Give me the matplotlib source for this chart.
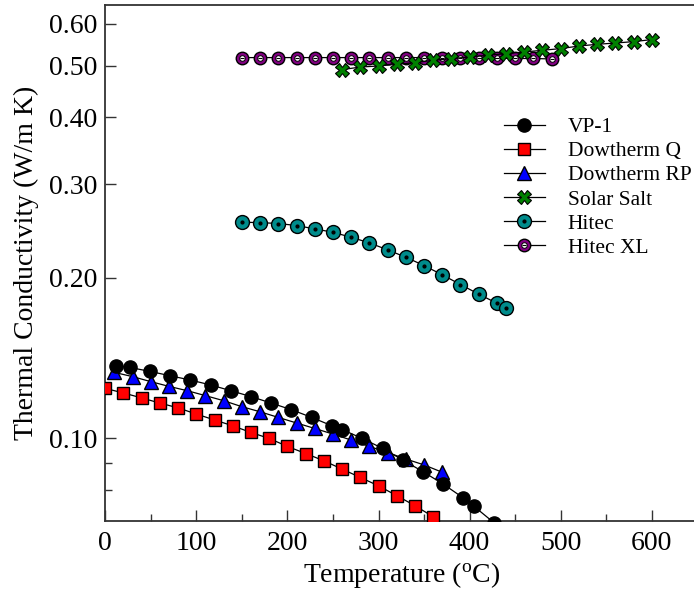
import matplotlib

matplotlib.use("Agg")

import matplotlib.pyplot as plt
from matplotlib.lines import Line2D
from matplotlib.legend_handler import HandlerTuple
from matplotlib.ticker import FixedLocator, NullFormatter, FormatStrFormatter

# VP-1 (data tabulated in degF steps, converted to degC)
vp1_t = [12, 26.7, 48.9, 71.1, 93.3, 115.6, 137.8, 160, 182.2, 204.4, 226.7, 248.9,
         260, 282.2, 304.4, 326.7, 348.9, 371.1, 393.3, 404.4, 426.7]
vp1_k = [0.1369, 0.1359, 0.1336, 0.1311, 0.1287, 0.1260, 0.1229, 0.1198, 0.1165,
         0.1132, 0.1095, 0.1056, 0.1039, 0.1000, 0.0958, 0.0911, 0.0866, 0.0821,
         0.0773, 0.0747, 0.0695]

dq_t = [0, 20, 40, 60, 80, 100, 120, 140, 160, 180, 200, 220, 240, 260, 280, 300,
        320, 340, 360]
dq_k = [0.1241, 0.1217, 0.1191, 0.1165, 0.1141, 0.1111, 0.1083, 0.1056, 0.1026,
        0.1000, 0.0966, 0.0937, 0.0908, 0.0876, 0.0845, 0.0815, 0.0781, 0.0748,
        0.0713]

rp_t = [10, 30, 50, 70, 90, 110, 130, 150, 170, 190, 210, 230, 250, 270, 290, 310,
        330, 350, 370]
rp_k = [0.1330, 0.1306, 0.1278, 0.1252, 0.1229, 0.1203, 0.1177, 0.1147, 0.1122,
        0.1095, 0.1069, 0.1044, 0.1019, 0.0993, 0.0966, 0.0941, 0.0915, 0.0892,
        0.0864]

salt_t = [260, 280, 300, 320, 340, 360, 380, 400, 420, 440, 460, 480, 500, 520,
          540, 560, 580, 600]
salt_k = [0.4917, 0.4973, 0.4995, 0.5032, 0.5069, 0.5120, 0.5157, 0.5193, 0.5232,
          0.5270, 0.5307, 0.5346, 0.5385, 0.5445, 0.5486, 0.5516, 0.5550, 0.5598]

hitec_t = [150, 170, 190, 210, 230, 250, 270, 290, 310, 330, 350, 370, 390, 410,
           430, 440]
hitec_k = [0.2544, 0.2540, 0.2530, 0.2508, 0.2472, 0.2436, 0.2384, 0.2327, 0.2258,
           0.2187, 0.2110, 0.2027, 0.1944, 0.1865, 0.1793, 0.1754]

xl_t = [150, 170, 190, 210, 230, 250, 270, 290, 310, 330, 350, 370, 390, 410, 430,
        450, 470, 490]
xl_k = [0.518, 0.518, 0.518, 0.518, 0.518, 0.518, 0.518, 0.518, 0.518, 0.518,
        0.518, 0.518, 0.518, 0.517, 0.517, 0.516, 0.516, 0.515]

yticks = [0.1, 0.2, 0.3, 0.4, 0.5, 0.6]
xticks = [0, 100, 200, 300, 400, 500, 600]

plt.rcParams.update({
    "font.family": "Liberation Serif",
    "mathtext.fontset": "custom",
    "mathtext.rm": "Liberation Serif",
    "font.size": 20,
})

fig = plt.figure(figsize=(6.94, 5.92), dpi=100)
ax = fig.add_axes([0.1517, 0.1199, 0.853, 0.8716])

lw = 0.9
ax.plot(vp1_t, vp1_k, color="black", lw=lw, marker="o", ms=9.5, mfc="black",
        mec="black", zorder=3)
ax.plot(dq_t, dq_k, color="black", lw=lw, marker="s", ms=9, mfc="#ff0000",
        mec="black", mew=1, zorder=3)
ax.plot(rp_t, rp_k, color="black", lw=lw, marker="^", ms=9.5, mfc="#0000ff",
        mec="black", mew=1, zorder=2.9)
ax.plot(xl_t, xl_k, color="black", lw=lw, marker="o", ms=9, mfc="#800080",
        mec="black", mew=1, zorder=3)
ax.plot(xl_t, xl_k, ls="none", marker="o", ms=4, mfc="white", mec="black",
        mew=0.7, zorder=3.1)
ax.plot(xl_t, xl_k, ls="none", marker="_", ms=3, mec="black", mew=0.8, zorder=3.2)
ax.plot(salt_t, salt_k, color="black", lw=lw, marker="X", ms=10, mfc="#008000",
        mec="black", mew=0.8, zorder=4)
ax.plot(hitec_t, hitec_k, color="black", lw=lw, marker="o", ms=10, mfc="#008b8b",
        mec="black", mew=1, zorder=3)
ax.plot(hitec_t, hitec_k, ls="none", marker="o", ms=2, mfc="black", mec="black",
        zorder=3.1)

ax.set_yscale("log")
ax.set_xlim(0, 650)
ax.set_ylim(0.07, 0.65)
ax.yaxis.set_major_locator(FixedLocator(yticks))
ax.yaxis.set_major_formatter(FormatStrFormatter("%.2f"))
ax.yaxis.set_minor_locator(FixedLocator([0.08, 0.09]))
ax.yaxis.set_minor_formatter(NullFormatter())
ax.xaxis.set_major_locator(FixedLocator(xticks))
ax.xaxis.set_minor_locator(FixedLocator([50, 150, 250, 350, 450, 550]))

ax.tick_params(which="both", direction="in", colors="#333333", labelcolor="black",
               width=1.0)
ax.tick_params(which="major", length=8)
ax.tick_params(which="minor", length=5)
ax.tick_params(axis="x", pad=7)
ax.tick_params(axis="y", pad=6)
for side in ["left", "bottom", "top"]:
    ax.spines[side].set_linewidth(1.3)
    ax.spines[side].set_color("#333333")
ax.spines["right"].set_visible(False)

ax.set_xlabel(r"Temperature ($\mathregular{^o}$C)", labelpad=3)
ax.set_ylabel("Thermal Conductivity (W/m K)", labelpad=7)


def mk(**kw):
    return Line2D([], [], **kw)


h_vp1 = mk(color="black", lw=lw, marker="o", ms=9.5, mfc="black", mec="black")
h_dq = mk(color="black", lw=lw, marker="s", ms=9, mfc="#ff0000", mec="black")
h_rp = mk(color="black", lw=lw, marker="^", ms=9.5, mfc="#0000ff", mec="black")
h_salt = mk(color="black", lw=lw, marker="X", ms=10, mfc="#008000", mec="black", mew=0.8)
h_hitec = (mk(color="black", lw=lw, marker="o", ms=10, mfc="#008b8b", mec="black"),
           mk(ls="none", marker="o", ms=2, mfc="black", mec="black"))
h_xl = (mk(color="black", lw=lw, marker="o", ms=9, mfc="#800080", mec="black"),
        mk(ls="none", marker="o", ms=4, mfc="white", mec="black", mew=0.7),
        mk(ls="none", marker="_", ms=3, mec="black", mew=0.8))

ax.legend([h_vp1, h_dq, h_rp, h_salt, h_hitec, h_xl],
          ["VP-1", "Dowtherm Q", "Dowtherm RP", "Solar Salt", "Hitec", "Hitec XL"],
          handler_map={tuple: HandlerTuple(ndivide=1)},
          loc="upper left", bbox_to_anchor=(0.673, 0.783), frameon=False,
          fontsize=15.5, labelspacing=0.19, handlelength=1.9, handletextpad=1.08,
          borderpad=0, borderaxespad=0)

fig.savefig("out.png", dpi=100)
